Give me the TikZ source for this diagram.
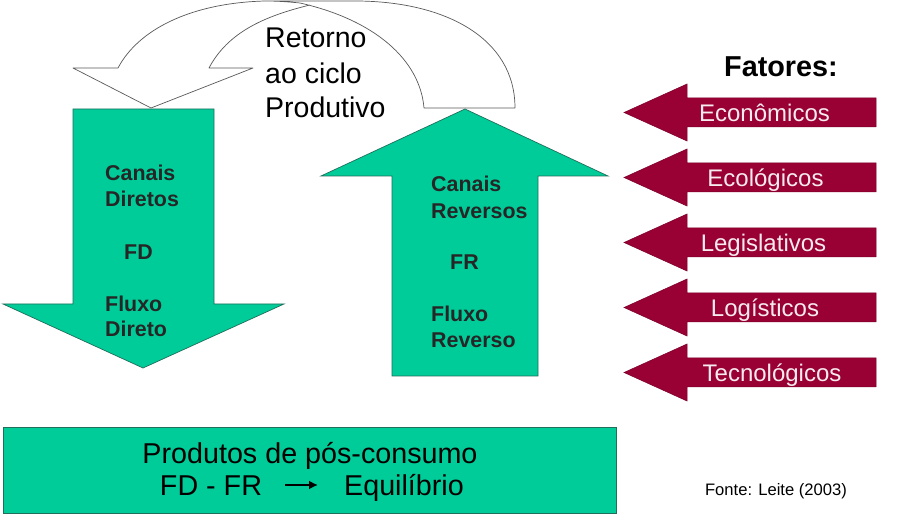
\documentclass[tikz,border=0pt]{standalone}
\usepackage{fontspec}
\usetikzlibrary{arrows.meta}
\setmainfont{Liberation Sans}
\definecolor{gr}{HTML}{00CC99}
\definecolor{mar}{HTML}{990033}
\definecolor{edge}{HTML}{1F6F5A}
\tikzset{
 greenshape/.style={fill=gr,draw=edge,line width=0.7pt,line join=miter},
 redshape/.style={fill=mar,draw=mar!80!black,line width=0.5pt},
 curveline/.style={draw=black!65,line width=0.7pt,line join=round},
 lab/.style={inner sep=0pt,align=center,text=black},
 ret/.style={lab,font=\fontsize{28.5}{35}\selectfont,align=left,anchor=base west},
 bl/.style={lab,text=black!85,font=\fontsize{21.4}{26}\selectfont\bfseries,align=left,anchor=base west},
 fact/.style={lab,text=white!92!mar,font=\fontsize{24}{26}\selectfont},
 big/.style={lab,font=\fontsize{28.7}{30}\selectfont}
}
\begin{document}
\begin{tikzpicture}[x=1pt,y=-1pt]
\useasboundingbox (0,0) rectangle (900,526);
\fill[white] (0,0) rectangle (900,526);
% curved arrow
\draw[curveline] (310,5) .. controls (265,16) and (228,32) .. (209,68) -- (253,68) -- (151,108) -- (73,68) -- (118,68)
  .. controls (138,30) and (190,3) .. (265,1) -- (355,1)
  .. controls (445,1) and (515,38) .. (515,108) -- (424,108)
  .. controls (420,60) and (375,20) .. (300,3) .. controls (290,2) and (278,1) .. (265,1);
% green arrows
\draw[greenshape] (73,109) -- (214,109) -- (214,304) -- (284,304) -- (143,368) -- (3,304) -- (73,304) -- cycle;
\draw[greenshape] (465,109) -- (608,176) -- (538,176) -- (538,376) -- (392,376) -- (392,176) -- (321,176) -- cycle;
% factor arrows
\foreach \d in {0,65,130,195,260}{
 \draw[redshape,shift={(0,\d)}] (624,112.5) -- (687,84) -- (687,98) -- (876,98) -- (876,127) -- (687,127) -- (687,141) -- cycle;
}
\draw[greenshape] (3,427) rectangle (616,513);
% labels
\node[ret] (ret) at (265,48) {Retorno};
\node[ret] (ret2) at (265,84) {ao ciclo};
\node[ret] (ret3) at (265,118) {Produtivo};
\node[lab,font=\fontsize{28.8}{30}\selectfont\bfseries,anchor=base] (fat) at (781,77) {Fatores:};
\node[bl] (a1) at (105,181) {Canais};
\node[bl] (a2) at (105,207) {Diretos};
\node[bl] (a3) at (124,260) {FD};
\node[bl] (a4) at (105,312) {Fluxo};
\node[bl] (a5) at (105,337) {Direto};
\node[bl] (b1) at (431,192) {Canais};
\node[bl] (b2) at (431,219) {Reversos};
\node[bl] (b3) at (450,270) {FR};
\node[bl] (b4) at (431,322) {Fluxo};
\node[bl] (b5) at (431,348) {Reverso};
\node[fact,anchor=base] (f1) at (764.5,122) {Econômicos};
\node[fact,anchor=base] (f2) at (765.5,187) {Ecológicos};
\node[fact,anchor=base] (f3) at (763.5,252) {Legislativos};
\node[fact,anchor=base] (f4) at (765,317) {Logísticos};
\node[fact,anchor=base] (f5) at (772,382) {Tecnológicos};
\node[big,anchor=base] (p1) at (310,464) {Produtos de pós-consumo};
\node[big,anchor=base] (p2) at (211,495) {FD - FR};
\node[big,anchor=base] (p3) at (404,495) {Equilíbrio};
\coordinate (s) at (285,485);
\coordinate (e) at (318,485);
\draw[-{Latex[length=9pt,width=9pt]},line width=2pt,black] (s) -- (e);
\node[lab,font=\fontsize{16.6}{17}\selectfont,anchor=base] (src) at (776,496) {Fonte: Leite (2003)};
\end{tikzpicture}
\end{document}
